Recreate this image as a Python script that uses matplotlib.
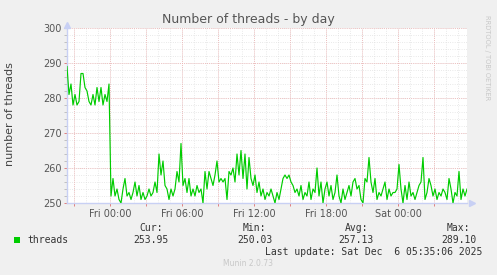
import matplotlib
matplotlib.use('Agg')
import matplotlib.pyplot as plt
import numpy as np

# Valores (muestras cada 10 minutos, horas relativas a Fri 00:00)
start_hour = -3.58
step_hours = 1 / 6
threads = [
    289, 281, 284, 278, 281, 278, 279, 287, 287, 283, 282, 279, 278, 281, 278, 283, 279, 283, 278, 281,
    279, 284, 252, 257, 252, 254, 251, 250, 254, 257, 252, 253, 251, 253, 256, 252, 255, 251, 253, 251,
    252, 254, 252, 253, 256, 253, 264, 258, 262, 255, 254, 251, 254, 252, 254, 259, 256, 267, 255, 257,
    253, 257, 252, 254, 252, 255, 253, 254, 250, 259, 254, 259, 257, 255, 258, 262, 256, 257, 256, 257,
    251, 259, 258, 260, 256, 264, 258, 265, 257, 264, 254, 263, 257, 255, 258, 253, 256, 252, 254, 251,
    253, 252, 254, 252, 250, 253, 251, 254, 257, 258, 257, 258, 256, 255, 253, 254, 252, 255, 251, 253,
    252, 256, 251, 254, 253, 260, 252, 256, 250, 254, 256, 252, 255, 251, 253, 258, 252, 250, 254, 251,
    253, 255, 252, 256, 257, 254, 255, 251, 250, 257, 256, 263, 256, 253, 257, 251, 253, 252, 254, 256,
    251, 254, 252, 253, 253, 254, 261, 254, 250, 255, 251, 256, 252, 253, 251, 253, 255, 256, 263, 251,
    253, 257, 255, 252, 254, 251, 253, 252, 254, 253, 251, 257, 254, 250, 253, 252, 259, 251, 254, 252,
    254,
]
tick_hours = [0, 6, 12, 18, 24]
tick_labels = ['Fri 00:00', 'Fri 06:00', 'Fri 12:00', 'Fri 18:00', 'Sat 00:00']
stats_names = ['Cur:', 'Min:', 'Avg:', 'Max:']
stats_values = ['253.95', '250.03', '257.13', '289.10']

hours = start_hour + np.arange(len(threads)) * step_hours

W, H = 497, 275
fig = plt.figure(figsize=(W / 100, H / 100), dpi=100, facecolor='#f0f0f0')
ax = fig.add_axes([67 / W, 1 - 203 / H, 400 / W, 175 / H], facecolor='white')

ax.set_xlim(start_hour, start_hour + 400 / 12)
ax.set_ylim(250, 300)

# rejilla menor y mayor
for h in np.arange(-3, 30, 1):
    ax.axvline(h, color='#dcdcdc', lw=0.55, ls=(0, (1, 2)), zorder=0)
for v in np.arange(250, 301, 2):
    ax.axhline(v, color='#dcdcdc', lw=0.55, ls=(0, (1, 2)), zorder=0)
for h in np.arange(-3, 30, 3):
    ax.axvline(h, color='#eeb0b0', lw=0.6, ls=(0, (1, 1.5)), zorder=1)
for v in np.arange(260, 301, 10):
    ax.axhline(v, color='#eeb0b0', lw=0.6, ls=(0, (1, 1.5)), zorder=1)

ax.plot(hours, threads, color='#00cc00', lw=0.85, zorder=3)

for s in ['top', 'right']:
    ax.spines[s].set_visible(False)
for s in ['left', 'bottom']:
    ax.spines[s].set_color('#c8d0f4')
    ax.spines[s].set_linewidth(1.0)
ax.plot([0], [1.02], marker='^', color='#c8d0f4', ms=4, transform=ax.transAxes, clip_on=False)
ax.plot([1.012], [0], marker='>', color='#c8d0f4', ms=4, transform=ax.transAxes, clip_on=False)

ax.set_xticks(tick_hours)
ax.set_xticklabels(tick_labels)
ax.set_xticks(np.arange(-3, 30, 3), minor=True)
ax.set_yticks(np.arange(250, 301, 10))
ax.set_yticks(np.arange(250, 301, 2), minor=True)
ax.tick_params(axis='both', which='major', labelsize=7, labelcolor='#555555', color='#e08080',
               length=2, width=0.7, pad=2)
ax.tick_params(axis='x', which='minor', color='#e08080', length=2, width=0.7)
ax.tick_params(axis='y', which='minor', color='#c0c0c0', length=2, width=0.7)

fig.text(248 / W, 1 - 19 / H, 'Number of threads - by day', ha='center', va='center',
         fontsize=9, color='#555555')
fig.text(10 / W, 1 - 114 / H, 'number of threads', rotation=90, ha='center', va='center',
         fontsize=8, color='#444444')
fig.text(487 / W, 1 - 58 / H, 'RRDTOOL / TOBI OETIKER', rotation=270, ha='center', va='center',
         fontsize=4.8, color='#c8c8c8')

# leyenda estilo munin
mono = 'DejaVu Sans Mono'
fig.patches.append(plt.Rectangle((14 / W, 1 - 243 / H), 6 / W, 6 / H, transform=fig.transFigure,
                                 facecolor='#00cc00', edgecolor='none'))
fig.text(27 / W, 1 - 240 / H, 'threads', ha='left', va='center', fontsize=7, family=mono, color='#333333')
name_right = [163, 266, 368, 470]
value_right = [169, 273, 374, 477]
for name, val, nx, vx in zip(stats_names, stats_values, name_right, value_right):
    fig.text(nx / W, 1 - 228 / H, name, ha='right', va='center', fontsize=7, family=mono, color='#333333')
    fig.text(vx / W, 1 - 240 / H, val, ha='right', va='center', fontsize=7, family=mono, color='#333333')
fig.text(482 / W, 1 - 252 / H, 'Last update: Sat Dec  6 05:35:06 2025', ha='right', va='center',
         fontsize=7, family=mono, color='#333333')
fig.text(248 / W, 1 - 264 / H, 'Munin 2.0.73', ha='center', va='center', fontsize=5.5, color='#c8c8c8')

fig.savefig('out.png', dpi=100, facecolor=fig.get_facecolor())
